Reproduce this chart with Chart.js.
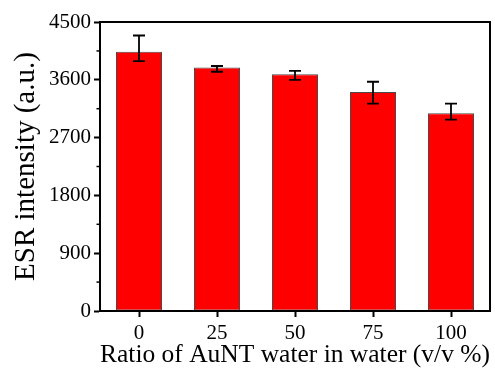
<!DOCTYPE html>
<html>
<head>
<meta charset="utf-8">
<script src="https://cdn.jsdelivr.net/npm/chart.js@4/dist/chart.umd.min.js"></script>
<style>
  html, body { margin: 0; padding: 0; background: #ffffff; }
  #wrap { width: 495px; height: 368px; position: relative; }
</style>
</head>
<body>
<div id="wrap"><canvas id="chart"></canvas></div>
<script>
// Ratio of AuNT water (v/v %)
const categories = ['0', '25', '50', '75', '100'];
// Mean ESR intensity (a.u.)
const intensity = [4035, 3790, 3685, 3410, 3080];
// Error bar ends
const errUpper = [4290, 3815, 3740, 3570, 3230];
const errLower = [3890, 3725, 3600, 3230, 2980];
// Y axis range and tick spacing
const yMin = 0, yMax = 4500, yStep = 900;
const yMinorStep = 450;

const FONT = '"Liberation Serif", "Times New Roman", serif';

const framePlugin = {
  id: 'frameAndErrors',
  afterDatasetsDraw(chart) {
    const ctx = chart.ctx;
    const area = chart.chartArea;
    const y = chart.scales.y;
    const meta = chart.getDatasetMeta(0);
    ctx.save();
    // error bars
    ctx.strokeStyle = '#000';
    ctx.lineWidth = 1.8;
    meta.data.forEach((bar, i) => {
      const x = bar.x;
      const yt = y.getPixelForValue(errUpper[i]);
      const yb = y.getPixelForValue(errLower[i]);
      const cap = 6;
      ctx.beginPath();
      ctx.moveTo(x, yt); ctx.lineTo(x, yb);
      ctx.moveTo(x - cap, yt); ctx.lineTo(x + cap, yt);
      ctx.moveTo(x - cap, yb); ctx.lineTo(x + cap, yb);
      ctx.stroke();
    });
    // frame around the plot area
    ctx.lineWidth = 2;
    ctx.strokeRect(area.left, area.top, area.right - area.left, area.bottom - area.top);
    // minor ticks on the value axis
    ctx.lineWidth = 1.5;
    for (let v = yMin + yMinorStep; v < yMax; v += yStep) {
      const py = y.getPixelForValue(v);
      ctx.beginPath();
      ctx.moveTo(area.left, py);
      ctx.lineTo(area.left - 3.5, py);
      ctx.stroke();
    }
    ctx.restore();
  }
};

new Chart(document.getElementById('chart'), {
  type: 'bar',
  data: {
    labels: categories,
    datasets: [{
      data: intensity,
      backgroundColor: '#ff0000',
      borderColor: '#4a4a4a',
      borderWidth: 1,
      borderSkipped: false,
      categoryPercentage: 1,
      barPercentage: 0.59
    }]
  },
  options: {
    responsive: true,
    maintainAspectRatio: false,
    animation: false,
    devicePixelRatio: 1,
    layout: { padding: { top: 22, right: 5, left: 0, bottom: 0 } },
    plugins: { legend: { display: false }, tooltip: { enabled: false } },
    scales: {
      x: {
        offset: true,
        grid: { offset: false, drawOnChartArea: false, drawTicks: true, tickLength: 6, tickWidth: 2, color: '#000' },
        border: { display: true, color: '#000', width: 2 },
        ticks: { color: '#000', font: { family: FONT, size: 21 }, padding: 4, maxRotation: 0 },
        title: { display: true, text: 'Ratio of AuNT water in water (v/v %)', color: '#000', font: { family: FONT, size: 26 }, padding: { top: 0, bottom: -3 } },
        afterFit(scale) { scale.height = 57; }
      },
      y: {
        min: yMin, max: yMax,
        grid: { drawOnChartArea: false, drawTicks: true, tickLength: 6, tickWidth: 2, color: '#000' },
        border: { display: true, color: '#000', width: 2 },
        ticks: { stepSize: yStep, color: '#000', font: { family: FONT, size: 21 }, padding: 3,
                 callback: (v) => String(v) },
        title: { display: true, text: 'ESR intensity (a.u.)', color: '#000', font: { family: FONT, size: 29 }, padding: { top: 9, bottom: 4 } },
        afterFit(scale) { scale.width = 100; }
      }
    }
  },
  plugins: [framePlugin]
});
</script>
</body>
</html>
